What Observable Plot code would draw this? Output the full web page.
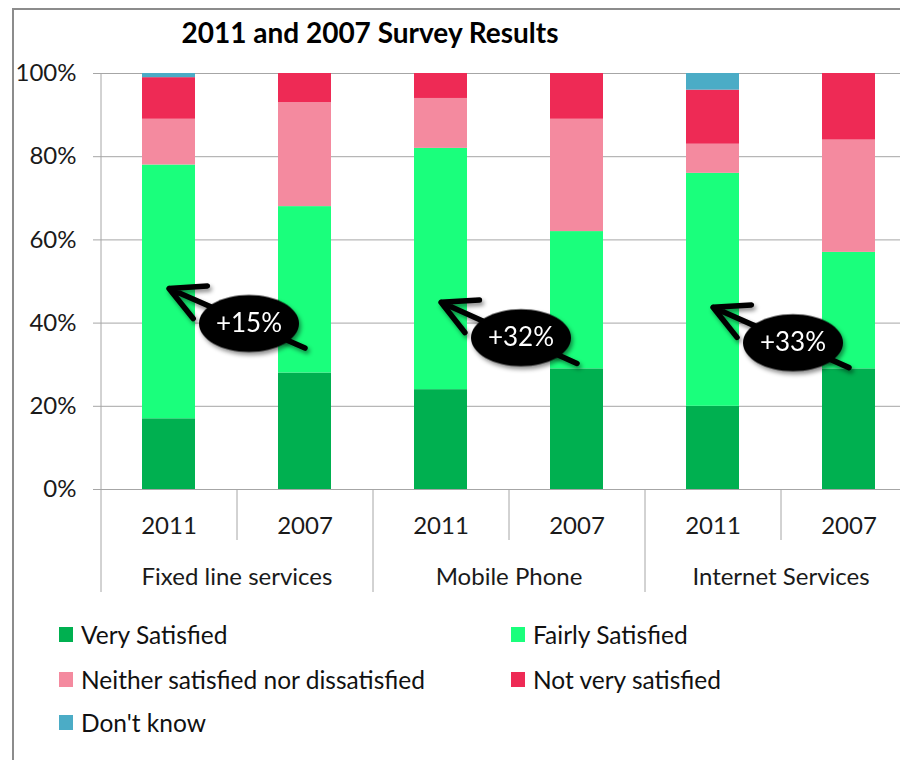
<!DOCTYPE html>
<html>
<head>
<meta charset="utf-8">
<script src="https://cdn.jsdelivr.net/npm/d3@7"></script>
<script src="https://cdn.jsdelivr.net/npm/@observablehq/plot@0.6"></script>
<style>
  html, body { margin: 0; padding: 0; background: #fff; }
  #wrap { position: relative; width: 900px; height: 760px; overflow: hidden; background: #fff; font-family: Lato, "Open Sans", sans-serif; color: #1a1a1a; }
  #border { position: absolute; left: 12px; top: 8px; width: 1000px; height: 900px; border-left: 2px solid #8c8c8c; border-top: 2px solid #8c8c8c; z-index: 5; pointer-events: none; }
  #title { position: absolute; left: 0; top: 15px; width: 740px; text-align: center; font-weight: 700; font-size: 28px; color: #000; }
  #chart { position: absolute; left: 0; top: 55px; }
  #legend { position: absolute; left: 59px; top: 620px; width: 820px; }
  .item { position: absolute; display: flex; align-items: center; font-size: 24.5px; white-space: nowrap; color: #111; }
  .sw { width: 14px; height: 15px; margin-right: 8px; }
  svg g[aria-label="arrow"], svg g[aria-label="dot"] { filter: drop-shadow(2px 3px 2px rgba(0,0,0,0.45)); }
</style>
</head>
<body>
<div id="wrap">
  <div id="border"></div>
  <div id="title">2011 and 2007 Survey Results</div>
  <div id="chart"></div>
  <div id="legend"></div>
</div>
<script>
// ---- data ----
const groups = ["Fixed line services", "Mobile Phone", "Internet Services"];
const years = ["2011", "2007"];
const series = ["Very Satisfied", "Fairly Satisfied", "Neither satisfied nor dissatisfied", "Not very satisfied", "Don't know"];
const colors = ["#00B050", "#1AFF7C", "#F48A9F", "#EE2A55", "#4BACC6"];
// bar order: Fixed 2011, Fixed 2007, Mobile 2011, Mobile 2007, Internet 2011, Internet 2007
const verySatisfied   = [17, 28, 24, 29, 20, 29];
const fairlySatisfied = [61, 40, 58, 33, 56, 28];
const neither         = [11, 25, 12, 27,  7, 27];
const notVery         = [10,  7,  6, 11, 13, 16];
const dontKnow        = [ 1,  0,  0,  0,  4,  0];
const yTicks = [0, 20, 40, 60, 80, 100];
// annotation arrows (2007 -> 2011), values in %
const changeLabels = ["+15%", "+32%", "+33%"];
const arrowStart = [34.0, 30.3, 29.3];
const arrowEnd   = [48.3, 45.0, 43.8];
const labelY     = [39.9, 36.5, 35.3];

// ---- build tables ----
const keys = groups.flatMap(g => years.map(y => g + "|" + y));
const seriesValues = [verySatisfied, fairlySatisfied, neither, notVery, dontKnow];
const rows = [];
keys.forEach((k, i) => series.forEach((s, j) => rows.push({key: k, series: s, value: seriesValues[j][i]})));
const ann = groups.map((g, i) => ({from: g + "|2007", to: g + "|2011", y1: arrowStart[i], y2: arrowEnd[i], ly: labelY[i], label: changeLabels[i]}));

// ---- layout ----
const W = 900, ML = 101, MR = -17, MT = 18, PH = 416, MB = 110, H = MT + PH + MB;
const step = (W - ML - MR) / keys.length;
const gray = "#a6a6a6";

const ellipse = {
  draw(ctx) {
    const rx = 50, ry = 28.5, k = 0.5523;
    ctx.moveTo(rx, 0);
    ctx.bezierCurveTo(rx, ry * k, rx * k, ry, 0, ry);
    ctx.bezierCurveTo(-rx * k, ry, -rx, ry * k, -rx, 0);
    ctx.bezierCurveTo(-rx, -ry * k, -rx * k, -ry, 0, -ry);
    ctx.bezierCurveTo(rx * k, -ry, rx, -ry * k, rx, 0);
    ctx.closePath();
  }
};

const chart = Plot.plot({
  width: W, height: H,
  marginLeft: ML, marginRight: MR, marginTop: MT, marginBottom: MB,
  style: {fontFamily: "Lato, 'Open Sans', sans-serif", fontSize: "24px", color: "#1a1a1a", background: "transparent"},
  x: {domain: keys, paddingInner: 0.61, paddingOuter: 0.305, axis: null},
  y: {domain: [0, 100], axis: null},
  color: {domain: series, range: colors},
  marks: [
    Plot.gridY(yTicks, {stroke: gray, strokeOpacity: 1}),
    Plot.axisY(yTicks, {tickSize: 8, tickPadding: 17, tickFormat: d => d + "%", stroke: gray, fill: "#1a1a1a", fontSize: 24}),
    Plot.ruleX([keys[0]], {dx: -step / 2, stroke: gray, insetBottom: -103}),
    Plot.ruleX(groups.slice(1).map(g => g + "|2011"), {dx: -step / 2, stroke: gray, insetTop: PH, insetBottom: -103}),
    Plot.ruleX(groups.map(g => g + "|2011"), {dx: step / 2, stroke: gray, insetTop: PH, insetBottom: -51}),
    Plot.barY(rows, {x: "key", y: "value", fill: "series"}),
    Plot.axisX({tickSize: 0, tickPadding: 27, tickFormat: d => d.split("|")[1], fill: "#1a1a1a", fontSize: 24}),
    Plot.text(groups, {x: g => g + "|2011", dx: step / 2, frameAnchor: "bottom", dy: 95, text: d => d, fill: "#1a1a1a", fontSize: 24}),
    Plot.arrow(ann, {x1: "from", y1: "y1", x2: "to", y2: "y2", stroke: "black", strokeWidth: 5.5, headLength: 10.5, headAngle: 55}),
    Plot.dot(ann, {x: "to", y: "ly", dx: 80, r: 30, symbol: ellipse, fill: "black", stroke: null}),
    Plot.text(ann, {x: "to", y: "ly", dx: 80, text: "label", fill: "white", fontSize: 26})
  ]
});
document.getElementById("chart").appendChild(chart);

// ---- legend ----
const legend = document.getElementById("legend");
const legendPos = [[0, 0], [452, 0], [0, 45], [452, 45], [0, 88]];
series.forEach((s, i) => {
  const it = document.createElement("div");
  it.className = "item";
  it.style.left = legendPos[i][0] + "px";
  it.style.top = legendPos[i][1] + "px";
  const sw = document.createElement("span");
  sw.className = "sw";
  sw.style.background = colors[i];
  const t = document.createElement("span");
  t.textContent = s;
  it.appendChild(sw); it.appendChild(t);
  legend.appendChild(it);
});
</script>
</body>
</html>
